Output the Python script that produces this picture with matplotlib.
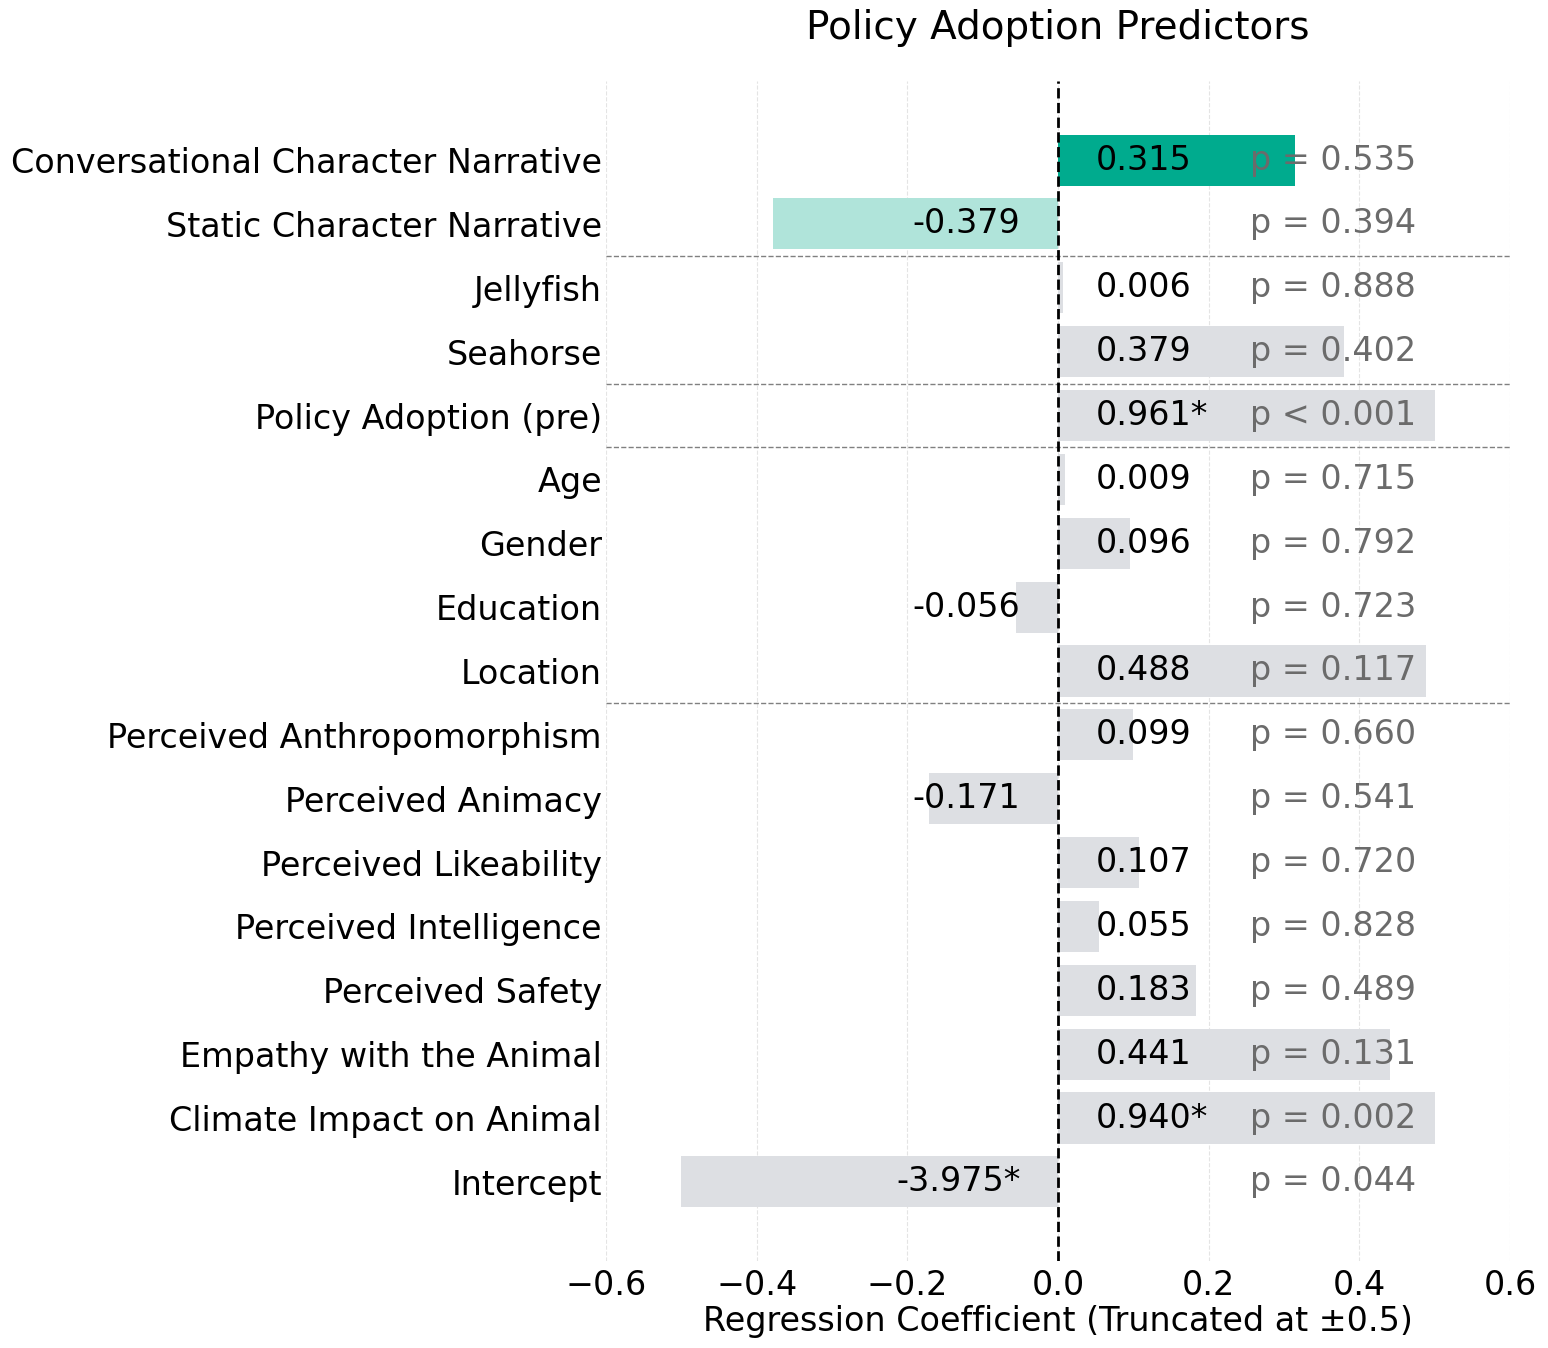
import numpy as np
import matplotlib
matplotlib.use("Agg")
import matplotlib.pyplot as plt

# predictors, top to bottom
labels = [
    "Conversational Character Narrative",
    "Static Character Narrative",
    "Jellyfish",
    "Seahorse",
    "Policy Adoption (pre)",
    "Age",
    "Gender",
    "Education",
    "Location",
    "Perceived Anthropomorphism",
    "Perceived Animacy",
    "Perceived Likeability",
    "Perceived Intelligence",
    "Perceived Safety",
    "Empathy with the Animal",
    "Climate Impact on Animal",
    "Intercept",
]
coefs = [0.315, -0.379, 0.006, 0.379, 0.961, 0.009, 0.096, -0.056, 0.488,
         0.099, -0.171, 0.107, 0.055, 0.183, 0.441, 0.940, -3.975]
pvals = [0.535, 0.394, 0.888, 0.402, 0.0005, 0.715, 0.792, 0.723, 0.117,
         0.660, 0.541, 0.720, 0.828, 0.489, 0.131, 0.002, 0.044]
group_breaks = [1.5, 3.5, 4.5, 8.5]  # between rows

TRUNC = 0.5
COL_MAIN = "#00ab8e"
COL_STATIC = "#b0e4da"
COL_OTHER = "#dddfe3"
FS = 24

n = len(labels)
y = np.arange(n)
shown = np.clip(coefs, -TRUNC, TRUNC)
colors = [COL_MAIN, COL_STATIC] + [COL_OTHER] * (n - 2)

fig = plt.figure(figsize=(15.48, 13.48), dpi=100)
ax = fig.add_axes([0.3915, 0.0645, 0.584, 0.8755])

ax.barh(y, shown, height=0.8, color=colors, zorder=2)
ax.invert_yaxis()

for i in range(n):
    star = "*" if pvals[i] < 0.05 else ""
    txt = f"{coefs[i]:.3f}{star}"
    if coefs[i] >= 0:
        ax.text(0.05, y[i], txt, ha="left", va="center", fontsize=FS, color="black", zorder=3)
    else:
        ax.text(-0.05, y[i], txt, ha="right", va="center", fontsize=FS, color="black", zorder=3)
    if pvals[i] < 0.001:
        ptxt = "p < 0.001"
    else:
        ptxt = f"p = {pvals[i]:.3f}"
    ax.text(0.255, y[i], ptxt, ha="left", va="center", fontsize=FS, color="#6b6b6b", zorder=3)

for b in group_breaks:
    ax.axhline(b, color="gray", linestyle="--", linewidth=1, zorder=1)

ax.axvline(0, color="black", linestyle="--", linewidth=2, zorder=4)

ax.set_xlim(-0.6, 0.6)
ax.set_xticks([-0.6, -0.4, -0.2, 0.0, 0.2, 0.4, 0.6])
ax.set_yticks(y)
ax.set_yticklabels(labels)
ax.tick_params(axis="both", length=0, labelsize=FS)
ax.tick_params(axis="x", pad=6)
ax.tick_params(axis="y", pad=3)
ax.grid(axis="x", linestyle="--", color="#e4e4e4", linewidth=0.8, zorder=0)
ax.set_axisbelow(True)
for s in ax.spines.values():
    s.set_visible(False)

ax.set_xlabel("Regression Coefficient (Truncated at ±0.5)", fontsize=FS, labelpad=2)
ax.set_title("Policy Adoption Predictors", fontsize=28, pad=30)

fig.savefig("out.png", dpi=100)
